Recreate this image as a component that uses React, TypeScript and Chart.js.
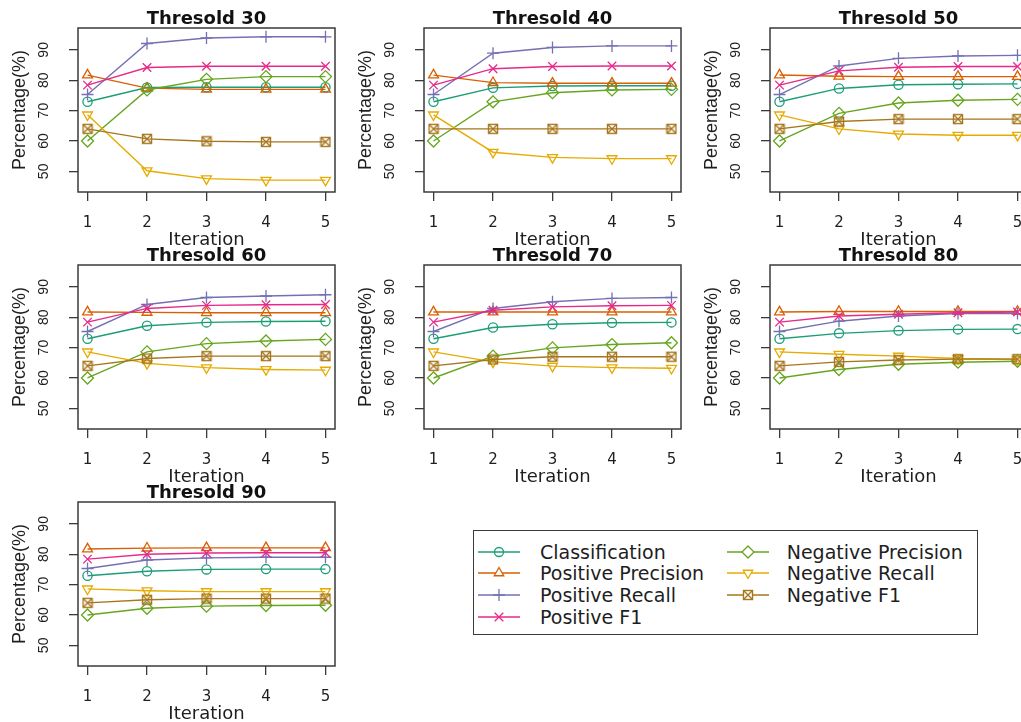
import React, { useEffect, useRef } from "react";
import { Chart, registerables } from "chart.js";

Chart.register(...registerables);

// ---------- data ----------
const iterations = [1, 2, 3, 4, 5];
const thresholds = [30, 40, 50, 60, 70, 80, 90];
const yTickValues = [50, 60, 70, 80, 90];
const seriesNames = [
  "Classification",
  "Positive Precision",
  "Positive Recall",
  "Positive F1",
  "Negative Precision",
  "Negative Recall",
  "Negative F1",
];
const seriesColors = ["#1B9E77", "#D95F02", "#7570B3", "#E7298A", "#66A61E", "#E6AB02", "#A6761D"];

// one row per threshold (30..90), one value per iteration (1..5)
const classification = [
  [72.9, 77.6, 77.7, 77.7, 77.7],
  [72.9, 77.5, 78.1, 78.2, 78.2],
  [72.9, 77.3, 78.5, 78.7, 78.8],
  [72.9, 77.2, 78.3, 78.6, 78.7],
  [72.9, 76.6, 77.7, 78.2, 78.3],
  [72.9, 74.7, 75.6, 76.0, 76.1],
  [72.9, 74.4, 75.0, 75.1, 75.1],
];
const positivePrecision = [
  [81.7, 77.4, 77.0, 77.0, 77.0],
  [81.7, 79.2, 79.0, 79.0, 79.0],
  [81.7, 81.3, 81.2, 81.2, 81.2],
  [81.7, 81.6, 81.5, 81.5, 81.5],
  [81.7, 81.7, 81.7, 81.7, 81.7],
  [81.7, 81.9, 81.9, 81.9, 81.9],
  [81.7, 82.0, 82.1, 82.1, 82.1],
];
const positiveRecall = [
  [75.3, 92.1, 93.9, 94.3, 94.3],
  [75.3, 88.9, 90.8, 91.3, 91.3],
  [75.3, 84.7, 87.2, 88.0, 88.2],
  [75.3, 84.2, 86.5, 87.0, 87.4],
  [75.3, 82.9, 85.1, 86.2, 86.5],
  [75.3, 78.7, 80.4, 81.2, 81.2],
  [75.3, 78.1, 78.8, 79.0, 79.0],
];
const positiveF1 = [
  [78.4, 84.2, 84.6, 84.6, 84.6],
  [78.4, 83.8, 84.5, 84.7, 84.7],
  [78.4, 83.1, 84.3, 84.5, 84.5],
  [78.4, 82.9, 83.9, 84.1, 84.2],
  [78.4, 82.3, 83.4, 83.8, 83.9],
  [78.4, 80.4, 81.0, 81.5, 81.7],
  [78.4, 80.0, 80.4, 80.5, 80.5],
];
const negativePrecision = [
  [60.0, 76.8, 80.3, 81.2, 81.2],
  [60.0, 72.9, 75.9, 76.8, 77.0],
  [60.0, 69.1, 72.5, 73.4, 73.7],
  [60.0, 68.6, 71.3, 72.2, 72.7],
  [60.0, 67.2, 69.9, 71.0, 71.6],
  [60.0, 62.8, 64.5, 65.2, 65.5],
  [60.0, 62.2, 62.9, 63.1, 63.2],
];
const negativeRecall = [
  [68.6, 50.2, 47.6, 47.1, 47.1],
  [68.6, 56.3, 54.6, 54.2, 54.2],
  [68.6, 64.0, 62.3, 61.9, 61.9],
  [68.6, 64.8, 63.4, 62.8, 62.6],
  [68.6, 65.3, 63.9, 63.4, 63.2],
  [68.6, 67.8, 67.2, 66.4, 66.2],
  [68.6, 68.0, 67.7, 67.7, 67.7],
];
const negativeF1 = [
  [64.0, 60.7, 59.9, 59.7, 59.7],
  [64.0, 64.0, 64.0, 64.0, 64.0],
  [64.0, 66.4, 67.2, 67.2, 67.2],
  [64.0, 66.4, 67.2, 67.2, 67.2],
  [64.0, 66.1, 67.0, 67.0, 67.0],
  [64.0, 65.3, 65.9, 66.2, 66.2],
  [64.0, 65.0, 65.4, 65.4, 65.4],
];
const allSeries = [
  classification,
  positivePrecision,
  positiveRecall,
  positiveF1,
  negativePrecision,
  negativeRecall,
  negativeF1,
];

// ---------- layout / style ----------
const COL_LEFTS = [77.7, 424, 770];
const ROW_TOPS = [28, 265, 501.7];
const BOX_W = 257;
const BOX_H = 164;
const PAD_L = 78;
const PAD_T = 28;
const PAD_B = 60;
const PAD_R = 11;
const CANVAS_W = PAD_L + BOX_W + PAD_R;
const CANVAS_H = PAD_T + BOX_H + PAD_B;
const TEXT = "#1e1e1e";
const AXIS = "#3a3a3a";

const pointStyles = ["circle", "triangle", "cross", "crossRot", "rectRot", "triangle", "squareX"];
const pointRotations = [0, 0, 0, 0, 0, 180, 0];
const pointRadii = [4.6, 5.7, 6, 6, 6, 5.7, 5];

function makeSquareX(color: string) {
  const c = document.createElement("canvas");
  c.width = 12;
  c.height = 12;
  const ctx = c.getContext("2d")!;
  ctx.strokeStyle = color;
  ctx.lineWidth = 1.4;
  ctx.strokeRect(1.5, 1.5, 9, 9);
  ctx.beginPath();
  ctx.moveTo(1.5, 1.5);
  ctx.lineTo(10.5, 10.5);
  ctx.moveTo(10.5, 1.5);
  ctx.lineTo(1.5, 10.5);
  ctx.stroke();
  return c;
}

const boxPlugin = {
  id: "rbox",
  afterDraw(chart: any) {
    const { ctx, chartArea: a } = chart;
    ctx.save();
    ctx.strokeStyle = AXIS;
    ctx.lineWidth = 1.5;
    ctx.strokeRect(a.left, a.top, a.right - a.left, a.bottom - a.top);
    ctx.restore();
  },
};

const yLabelPlugin = {
  id: "ylabels",
  afterDraw(chart: any) {
    const { ctx, chartArea: a } = chart;
    const ys = chart.scales.y;
    ctx.save();
    ctx.font = "14px 'Liberation Sans', Arial, sans-serif";
    ctx.fillStyle = TEXT;
    ctx.textAlign = "center";
    ctx.textBaseline = "middle";
    for (const v of yTickValues) {
      const py = ys.getPixelForValue(v);
      ctx.save();
      ctx.translate(a.left - 34, py);
      ctx.rotate(-Math.PI / 2);
      ctx.fillText(String(v), 0, 0);
      ctx.restore();
    }
    ctx.restore();
  },
};

function Panel({ index }: { index: number }) {
  const ref = useRef<HTMLCanvasElement | null>(null);
  useEffect(() => {
    const canvas = ref.current;
    if (!canvas) return;
    const thr = thresholds[index];
    const datasets = allSeries.map((s, k) => {
      const style: any = pointStyles[k] === "squareX" ? makeSquareX(seriesColors[k]) : pointStyles[k];
      return {
        label: seriesNames[k],
        data: iterations.map((it, j) => ({ x: it, y: s[index][j] })),
        borderColor: seriesColors[k],
        backgroundColor: "rgba(0,0,0,0)",
        borderWidth: 1.4,
        pointStyle: style,
        pointRotation: pointRotations[k],
        pointRadius: pointRadii[k],
        pointBorderWidth: 1.3,
        pointBorderColor: seriesColors[k],
        pointBackgroundColor: "rgba(0,0,0,0)",
        tension: 0,
        order: 6 - k,
      };
    });
    const tickGrid = {
      display: true,
      drawOnChartArea: false,
      drawTicks: true,
      tickLength: 9,
      color: AXIS,
      lineWidth: 1.3,
    };
    const chart = new Chart(canvas, {
      type: "line",
      data: { datasets },
      options: {
        animation: false,
        responsive: false,
        devicePixelRatio: 1,
        events: [],
        layout: { padding: { left: 0, right: PAD_R, top: 0, bottom: 0 } },
        plugins: {
          legend: { display: false },
          tooltip: { enabled: false },
          title: {
            display: true,
            text: `Thresold ${thr}`,
            fullSize: false,
            color: "#111",
            font: { family: "'DejaVu Sans', sans-serif", size: 18, weight: "bold", lineHeight: 0.8 },
            padding: { top: 12.3, bottom: 1.3 },
          },
        },
        scales: {
          x: {
            type: "linear",
            min: 0.84,
            max: 5.16,
            afterBuildTicks: (s: any) => {
              s.ticks = iterations.map((v) => ({ value: v }));
            },
            afterFit: (s: any) => {
              s.height = PAD_B;
              s.paddingLeft = 0;
              s.paddingRight = 0;
            },
            grid: tickGrid,
            border: { display: false },
            ticks: {
              color: TEXT,
              font: { family: "'DejaVu Sans', sans-serif", size: 15 },
              padding: 13.5,
              maxRotation: 0,
              autoSkip: false,
              callback: (v: any) => String(v),
            },
            title: {
              display: true,
              text: "Iteration",
              color: TEXT,
              font: { family: "'DejaVu Sans', sans-serif", size: 18 },
              padding: { top: 0, bottom: 1 },
            },
          },
          y: {
            type: "linear",
            min: 43.2,
            max: 97.2,
            afterBuildTicks: (s: any) => {
              s.ticks = yTickValues.map((v) => ({ value: v }));
            },
            afterFit: (s: any) => {
              s.width = PAD_L;
            },
            grid: tickGrid,
            border: { display: false },
            ticks: { display: false },
            title: {
              display: true,
              text: "Percentage(%)",
              color: TEXT,
              font: { family: "'Liberation Sans', Arial, sans-serif", size: 18 },
              padding: { top: 9.5, bottom: 0 },
            },
          },
        },
      } as any,
      plugins: [boxPlugin, yLabelPlugin],
    });
    return () => chart.destroy();
  }, [index]);
  const left = COL_LEFTS[index % 3] - PAD_L;
  const top = ROW_TOPS[Math.floor(index / 3)] - PAD_T;
  return (
    <canvas
      ref={ref}
      width={CANVAS_W}
      height={CANVAS_H}
      style={{ position: "absolute", left, top, width: CANVAS_W, height: CANVAS_H }}
    />
  );
}

function Marker({ k }: { k: number }) {
  const c = seriesColors[k];
  const sw = 1.3;
  let shape: React.ReactNode = null;
  if (k === 0) shape = <circle cx={0} cy={0} r={4.5} fill="none" stroke={c} strokeWidth={sw} />;
  if (k === 1) shape = <polygon points="0,-5.5 4.76,2.75 -4.76,2.75" fill="#fff" stroke={c} strokeWidth={sw} />;
  if (k === 2) shape = <path d="M-6,0 L6,0 M0,-6 L0,6" stroke={c} strokeWidth={sw} />;
  if (k === 3) shape = <path d="M-4.3,-4.3 L4.3,4.3 M4.3,-4.3 L-4.3,4.3" stroke={c} strokeWidth={sw} />;
  if (k === 4) shape = <polygon points="0,-6 6,0 0,6 -6,0" fill="#fff" stroke={c} strokeWidth={sw} />;
  if (k === 5) shape = <polygon points="0,5.5 4.76,-2.75 -4.76,-2.75" fill="#fff" stroke={c} strokeWidth={sw} />;
  if (k === 6)
    shape = (
      <g>
        <rect x={-4.5} y={-4.5} width={9} height={9} fill="#fff" stroke={c} strokeWidth={1.4} />
        <path d="M-4.5,-4.5 L4.5,4.5 M4.5,-4.5 L-4.5,4.5" stroke={c} strokeWidth={1.4} />
      </g>
    );
  return (
    <svg width={42} height={16} style={{ position: "absolute", left: 0, top: 0, overflow: "visible" }}>
      <line x1={0} y1={8} x2={42} y2={8} stroke={c} strokeWidth={1.4} />
      <g transform="translate(21,8)">{shape}</g>
    </svg>
  );
}

const LEGEND_COLS = [
  { items: [0, 1, 2, 3], lineX: 478.3, textX: 540 },
  { items: [4, 5, 6], lineX: 726.7, textX: 786.7 },
];

function Legend() {
  const rowY0 = 551.7;
  const rowStep = 21.7;
  return (
    <>
      <div
        style={{
          position: "absolute",
          left: 472.7,
          top: 530,
          width: 505.6,
          height: 105,
          boxSizing: "border-box",
          border: `1.4px solid ${AXIS}`,
        }}
      />
      {LEGEND_COLS.map((col) =>
        col.items.map((k, r) => {
          const cy = rowY0 + r * rowStep;
          return (
            <React.Fragment key={k}>
              <div style={{ position: "absolute", left: col.lineX, top: cy - 8, width: 42, height: 16 }}>
                <Marker k={k} />
              </div>
              <div
                style={{
                  position: "absolute",
                  left: col.textX,
                  top: cy - 11,
                  height: 22,
                  lineHeight: "22px",
                  fontFamily: "'DejaVu Sans', sans-serif",
                  fontSize: 19,
                  color: TEXT,
                  whiteSpace: "nowrap",
                }}
              >
                {seriesNames[k]}
              </div>
            </React.Fragment>
          );
        })
      )}
    </>
  );
}

export default function App() {
  return (
    <div
      style={{
        position: "absolute",
        left: 0,
        top: 0,
        width: 1021,
        height: 722,
        overflow: "hidden",
        background: "#fff",
      }}
    >
      {thresholds.map((t, i) => (
        <Panel key={t} index={i} />
      ))}
      <Legend />
    </div>
  );
}
